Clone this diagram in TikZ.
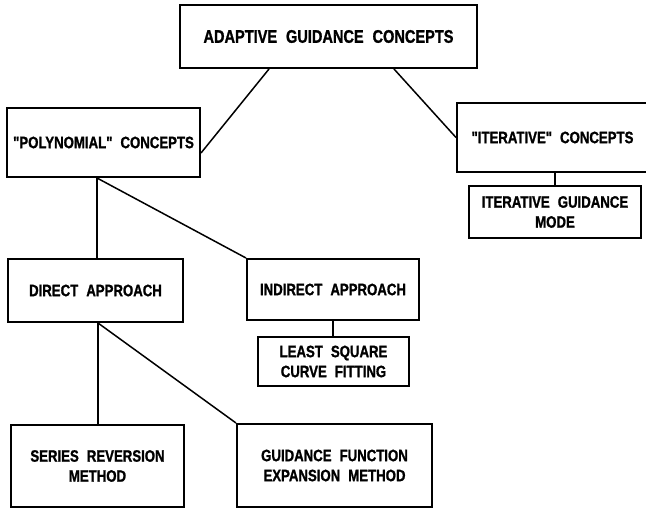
\documentclass[tikz,border=0pt]{standalone}
\usepackage{fontspec}
\newfontfamily\diagfont{Liberation Sans}[FakeStretch=0.8, WordSpace=2.2, FakeBold=1.2]
\usetikzlibrary{calc}
\begin{document}
\begin{tikzpicture}[x=1pt,y=-1pt,
  box/.style={draw=black, line width=2pt, inner sep=0pt, align=center,
    font=\diagfont\bfseries\fontsize{16.5}{20}\selectfont},
  conn/.style={draw=black, line width=1.5pt}]
\useasboundingbox (0,0) rectangle (646,508);
\node[box, minimum width=297pt, minimum height=63pt, font=\diagfont\bfseries\fontsize{18.2}{21}\selectfont] (top) at (328.5,36.5) {ADAPTIVE GUIDANCE CONCEPTS};
\node[box, minimum width=193pt, minimum height=69pt] (poly) at (103.5,142.5) {"POLYNOMIAL" CONCEPTS};
\node[box, minimum width=191pt, minimum height=69pt] (iter) at (552.5,137.5) {"ITERATIVE" CONCEPTS};
\node[box, minimum width=172pt, minimum height=52pt] (mode) at (555,212) {ITERATIVE GUIDANCE\\MODE};
\node[box, minimum width=175pt, minimum height=63pt] (direct) at (95.5,290.5) {DIRECT APPROACH};
\node[box, minimum width=172pt, minimum height=61pt] (indirect) at (333,289.5) {INDIRECT APPROACH};
\node[box, minimum width=151pt, minimum height=49pt] (least) at (333.5,361.5) {LEAST SQUARE\\CURVE FITTING};
\node[box, minimum width=173pt, minimum height=82pt] (series) at (97.5,466) {SERIES REVERSION\\METHOD};
\node[box, minimum width=195pt, minimum height=83pt] (guid) at (334.5,465.5) {GUIDANCE FUNCTION\\EXPANSION METHOD};
\coordinate (tl) at ([xshift=90pt]top.south west);
\coordinate (tr) at ([xshift=-84pt]top.south east);
\coordinate (pr) at ([yshift=-10.5pt]poly.east);
\coordinate (pb) at ([xshift=-6.5pt]poly.south);
\coordinate (db) at ([xshift=2.5pt]direct.south);
\draw[conn] (tl) -- (pr);
\draw[conn] (tr) -- (iter.west);
\draw[conn] (mode.north) -- (mode.north |- iter.south);
\draw[conn] (pb) -- (pb |- direct.north);
\draw[conn] (pb) -- (indirect.north west);
\draw[conn] (indirect.south) -- (indirect.south |- least.north);
\draw[conn] (db) -- (db |- series.north);
\draw[conn] (db) -- (guid.north west);
\end{tikzpicture}
\end{document}
